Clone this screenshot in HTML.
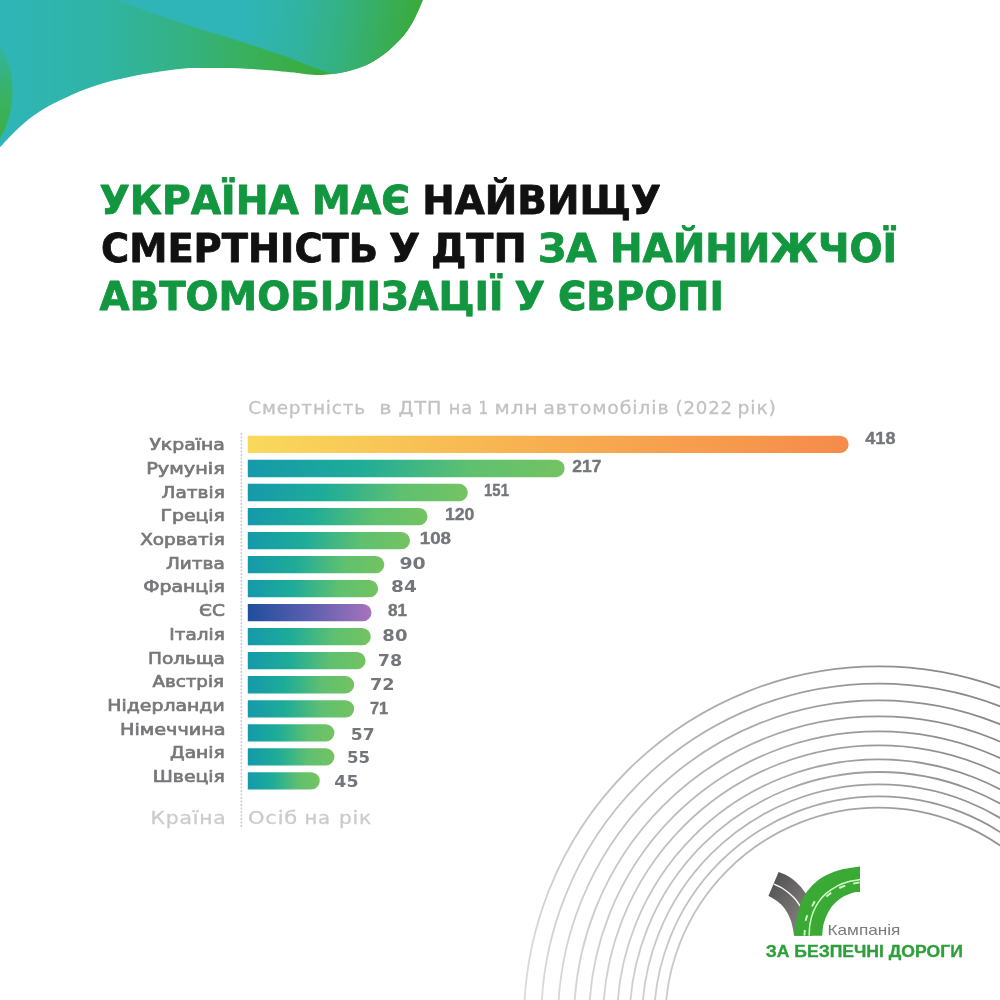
<!DOCTYPE html>
<html lang="uk"><head><meta charset="utf-8"><title>Смертність у ДТП</title>
<style>
html,body{margin:0;padding:0;background:#fff}
body{width:1000px;height:1000px;overflow:hidden;position:relative}
svg{position:absolute;left:0;top:0;display:block}
text{white-space:pre}
.h{font-family:"DejaVu Sans","Liberation Sans",sans-serif;font-weight:bold;font-size:38.2px;stroke-width:.8;stroke-linejoin:round}
.g{fill:#12963f;stroke:#12963f}
.k{fill:#111;stroke:#111}
.lab{font-family:"DejaVu Sans","Liberation Sans",sans-serif;font-size:16.4px;fill:#77777c;stroke:#77777c;stroke-width:.7}
.num{font-family:"DejaVu Sans","Liberation Sans",sans-serif;font-weight:bold;font-size:16.4px;fill:#74767b}
.n1{font-family:"Liberation Sans","DejaVu Sans",sans-serif;font-size:16.8px;stroke:#74767b;stroke-width:.4}
.ttl{font-family:"DejaVu Sans","Liberation Sans",sans-serif;font-size:17.6px;fill:#c2c2c2;stroke:#c2c2c2;stroke-width:.3;letter-spacing:.8px}
.lg1{font-family:"Liberation Sans","DejaVu Sans",sans-serif;font-size:14.6px;fill:#7a7a7a}
.lg2{font-family:"Liberation Sans","DejaVu Sans",sans-serif;font-weight:bold;font-size:17.4px;fill:#2f9f3c;stroke:#2f9f3c;stroke-width:.35}
.ft{font-family:"DejaVu Sans","Liberation Sans",sans-serif;font-size:18px;fill:#cbcbcb;stroke:#cbcbcb;stroke-width:.3;letter-spacing:.7px}
</style></head><body>
<svg width="1000" height="1000" viewBox="0 0 1000 1000">
<defs>
<linearGradient id="gb" gradientUnits="userSpaceOnUse" x1="0" y1="0" x2="335" y2="0">
<stop offset="0" stop-color="#2fb5b8"/><stop offset=".3" stop-color="#30b4a5"/><stop offset=".55" stop-color="#34b282"/><stop offset=".78" stop-color="#3ab054"/><stop offset="1" stop-color="#3aaa35"/></linearGradient>
<linearGradient id="go" gradientUnits="userSpaceOnUse" x1="245" y1="0" x2="425" y2="28">
<stop offset="0" stop-color="#2fb5b8"/><stop offset=".3" stop-color="#31b3a2"/><stop offset=".58" stop-color="#35b17c"/><stop offset=".8" stop-color="#39ad55"/><stop offset="1" stop-color="#3aaa35"/></linearGradient>
<linearGradient id="gl" gradientUnits="userSpaceOnUse" x1="0" y1="45" x2="0" y2="138">
<stop offset="0" stop-color="#32b5a0"/><stop offset=".5" stop-color="#38b26a"/><stop offset="1" stop-color="#3cb043"/></linearGradient>
<linearGradient id="bt" x1="0" y1="0" x2="1" y2="0"><stop offset="0" stop-color="#1599ab"/><stop offset=".35" stop-color="#1eac98"/><stop offset=".7" stop-color="#5fc070"/><stop offset="1" stop-color="#74c361"/></linearGradient>
<linearGradient id="bu" x1="0" y1="0" x2="1" y2="0"><stop offset="0" stop-color="#f9d95b"/><stop offset=".5" stop-color="#f8ae50"/><stop offset="1" stop-color="#f68b4b"/></linearGradient>
<linearGradient id="be" x1="0" y1="0" x2="1" y2="0"><stop offset="0" stop-color="#1f4e9c"/><stop offset=".5" stop-color="#5b5fae"/><stop offset="1" stop-color="#a773bd"/></linearGradient>
<linearGradient id="ga" gradientUnits="userSpaceOnUse" x1="540" y1="1000" x2="960" y2="690"><stop offset="0" stop-color="#dadada"/><stop offset=".45" stop-color="#bababa"/><stop offset="1" stop-color="#888888"/></linearGradient>
<linearGradient id="gr" gradientUnits="userSpaceOnUse" x1="768" y1="890" x2="808" y2="920"><stop offset="0" stop-color="#565656"/><stop offset="1" stop-color="#85807f"/></linearGradient>
</defs>

<path d="M-6.0,154.0 C-5.0,152.9 -3.7,151.1 0.0,147.2 C3.7,143.3 10.7,135.5 16.0,130.4 C21.3,125.3 26.7,120.8 32.0,116.8 C37.3,112.8 42.7,109.5 48.0,106.4 C53.3,103.3 58.7,100.9 64.0,98.4 C69.3,95.9 74.7,93.3 80.0,91.2 C85.3,89.1 90.7,87.3 96.0,85.6 C101.3,83.9 106.7,82.2 112.0,80.8 C117.3,79.4 122.7,78.4 128.0,77.3 C133.3,76.2 138.7,75.1 144.0,74.1 C149.3,73.1 153.7,72.4 160.0,71.5 C166.3,70.6 175.7,69.3 182.0,68.7 C188.3,68.1 192.7,68.2 198.0,68.1 C203.3,68.0 208.7,67.9 214.0,67.9 C219.3,67.9 224.7,68.0 230.0,68.1 C235.3,68.2 240.7,68.4 246.0,68.7 C251.3,69.0 256.7,69.3 262.0,69.7 C267.3,70.1 272.7,70.5 278.0,71.0 C283.3,71.5 289.3,72.1 294.0,72.6 C298.7,73.1 301.3,73.8 306.0,74.2 C310.7,74.6 316.7,75.1 322.0,74.9 C327.3,74.8 332.7,74.2 338.0,73.3 C343.3,72.4 348.7,71.3 354.0,69.6 C359.3,67.9 364.7,66.0 370.0,63.2 C375.3,60.4 380.7,57.1 386.0,52.8 C391.3,48.5 397.7,42.4 402.0,37.6 C406.3,32.8 408.9,28.4 411.6,24.0 C414.3,19.6 416.1,15.2 418.0,11.2 C419.9,7.2 421.5,3.2 422.8,0.0 C424.1,-3.2 425.5,-6.7 426.0,-8.0 L-6,-8 Z" fill="url(#gb)"/>
<path d="M110.0,-3.0 C111.0,-2.5 107.7,-3.1 116.0,0.0 C124.3,3.1 145.5,10.5 160.0,15.5 C174.5,20.5 191.1,26.2 202.8,30.0 C214.5,33.8 220.1,34.9 230.0,38.0 C239.9,41.1 252.7,45.3 262.0,48.4 C271.3,51.5 278.7,53.7 286.0,56.4 C293.3,59.1 300.0,62.5 306.0,64.8 C312.0,67.1 317.7,69.0 322.0,70.4 C326.3,71.8 328.9,72.8 331.6,73.3 C334.3,73.8 334.3,73.9 338.0,73.3 C341.7,72.7 348.7,71.3 354.0,69.6 C359.3,67.9 364.7,66.0 370.0,63.2 C375.3,60.4 380.7,57.1 386.0,52.8 C391.3,48.5 397.7,42.4 402.0,37.6 C406.3,32.8 408.9,28.4 411.6,24.0 C414.3,19.6 416.1,15.2 418.0,11.2 C419.9,7.2 421.5,3.2 422.8,0.0 C424.1,-3.2 425.5,-6.7 426.0,-8.0 L110,-8 Z" fill="url(#go)"/>
<path d="M-2,44 C6,52 12.5,70 12.5,90 C12.500,112 6,130 -2,141 Z" fill="url(#gl)"/>
<g fill="none" stroke="url(#ga)" stroke-width="1.8">
<circle cx="878.6" cy="1021" r="354.6"/>
<circle cx="878.6" cy="1021" r="337.4"/>
<circle cx="878.6" cy="1021" r="320.6"/>
<circle cx="878.6" cy="1021" r="304.6"/>
<circle cx="878.6" cy="1021" r="289.6"/>
<circle cx="878.6" cy="1021" r="275.6"/>
<circle cx="878.6" cy="1021" r="261.6"/>
<circle cx="878.6" cy="1021" r="249"/>
<circle cx="878.6" cy="1021" r="236.6"/>
<circle cx="878.6" cy="1021" r="224.6"/>
<circle cx="878.6" cy="1021" r="213.4"/>
</g>
<text class="h g" x="99.50" y="213.8" textLength="199.50" lengthAdjust="spacingAndGlyphs">УКРАЇНА</text>
<text class="h g" x="311.87" y="213.8" textLength="98.23" lengthAdjust="spacingAndGlyphs">МАЄ</text>
<text class="h k" x="422.35" y="213.8" textLength="238.46" lengthAdjust="spacingAndGlyphs">НАЙВИЩУ</text>
<text class="h k" x="100.99" y="261.6" textLength="277.04" lengthAdjust="spacingAndGlyphs">СМЕРТНІСТЬ</text>
<text class="h k" x="388.94" y="261.6" textLength="31.10" lengthAdjust="spacingAndGlyphs">У</text>
<text class="h k" x="430.92" y="261.6" textLength="95.87" lengthAdjust="spacingAndGlyphs">ДТП</text>
<text class="h g" x="537.92" y="261.6" textLength="58.85" lengthAdjust="spacingAndGlyphs">ЗА</text>
<text class="h g" x="609.96" y="261.6" textLength="287.05" lengthAdjust="spacingAndGlyphs">НАЙНИЖЧОЇ</text>
<text class="h g" x="99.50" y="309.5" textLength="404.00" lengthAdjust="spacingAndGlyphs">АВТОМОБІЛІЗАЦІЇ</text>
<text class="h g" x="514.49" y="309.5" textLength="30.55" lengthAdjust="spacingAndGlyphs">У</text>
<text class="h g" x="557.98" y="309.5" textLength="165.90" lengthAdjust="spacingAndGlyphs">ЄВРОПІ</text>
<text class="ttl" x="248.19" y="413.8" textLength="117.87" lengthAdjust="spacingAndGlyphs">Смертність</text>
<text class="ttl" x="379.15" y="413.8" textLength="13.17" lengthAdjust="spacingAndGlyphs">в</text>
<text class="ttl" x="398.59" y="413.8" textLength="43.59" lengthAdjust="spacingAndGlyphs">ДТП</text>
<text class="ttl" x="448.84" y="413.8" textLength="24.04" lengthAdjust="spacingAndGlyphs">на</text>
<text class="ttl" x="478.54" y="413.8" textLength="10.37" lengthAdjust="spacingAndGlyphs">1</text>
<text class="ttl" x="494.46" y="413.8" textLength="44.17" lengthAdjust="spacingAndGlyphs">млн</text>
<text class="ttl" x="543.37" y="413.8" textLength="126.06" lengthAdjust="spacingAndGlyphs">автомобілів</text>
<text class="ttl" x="675.51" y="413.8" textLength="57.46" lengthAdjust="spacingAndGlyphs">(2022</text>
<text class="ttl" x="737.53" y="413.8" textLength="39.27" lengthAdjust="spacingAndGlyphs">рік)</text>
<line x1="241.4" y1="433" x2="241.4" y2="829" stroke="#cdcbd9" stroke-width="1.6" stroke-dasharray="2 1.5"/>
<path d="M247.8,435.80 H839.95 A8.65,8.65 0 0 1 839.95,453.10 H247.8 Z" fill="url(#bu)"/>
<path d="M247.8,459.83 H555.95 A8.65,8.65 0 0 1 555.95,477.13 H247.8 Z" fill="url(#bt)"/>
<path d="M247.8,483.86 H459.15 A8.65,8.65 0 0 1 459.15,501.16 H247.8 Z" fill="url(#bt)"/>
<path d="M247.8,507.89 H418.85 A8.65,8.65 0 0 1 418.85,525.19 H247.8 Z" fill="url(#bt)"/>
<path d="M247.8,531.92 H401.35 A8.65,8.65 0 0 1 401.35,549.22 H247.8 Z" fill="url(#bt)"/>
<path d="M247.8,555.95 H375.65 A8.65,8.65 0 0 1 375.65,573.25 H247.8 Z" fill="url(#bt)"/>
<path d="M247.8,579.98 H369.45 A8.65,8.65 0 0 1 369.45,597.28 H247.8 Z" fill="url(#bt)"/>
<path d="M247.8,604.01 H362.85 A8.65,8.65 0 0 1 362.85,621.31 H247.8 Z" fill="url(#be)"/>
<path d="M247.8,628.04 H362.15 A8.65,8.65 0 0 1 362.15,645.34 H247.8 Z" fill="url(#bt)"/>
<path d="M247.8,652.07 H356.95 A8.65,8.65 0 0 1 356.95,669.37 H247.8 Z" fill="url(#bt)"/>
<path d="M247.8,676.10 H345.55 A8.65,8.65 0 0 1 345.55,693.40 H247.8 Z" fill="url(#bt)"/>
<path d="M247.8,700.13 H345.55 A8.65,8.65 0 0 1 345.55,717.43 H247.8 Z" fill="url(#bt)"/>
<path d="M247.8,724.16 H325.75 A8.65,8.65 0 0 1 325.75,741.46 H247.8 Z" fill="url(#bt)"/>
<path d="M247.8,748.19 H325.75 A8.65,8.65 0 0 1 325.75,765.49 H247.8 Z" fill="url(#bt)"/>
<path d="M247.8,772.22 H311.15 A8.65,8.65 0 0 1 311.15,789.52 H247.8 Z" fill="url(#bt)"/>
<text class="lab" x="149.40" y="450.2" textLength="75.42" lengthAdjust="spacingAndGlyphs">Україна</text>
<text class="lab" x="146.16" y="473.9" textLength="78.67" lengthAdjust="spacingAndGlyphs">Румунія</text>
<text class="lab" x="161.58" y="497.6" textLength="63.24" lengthAdjust="spacingAndGlyphs">Латвія</text>
<text class="lab" x="160.53" y="521.3" textLength="64.32" lengthAdjust="spacingAndGlyphs">Греція</text>
<text class="lab" x="140.19" y="545.0" textLength="84.62" lengthAdjust="spacingAndGlyphs">Хорватія</text>
<text class="lab" x="165.99" y="568.7" textLength="58.84" lengthAdjust="spacingAndGlyphs">Литва</text>
<text class="lab" x="143.18" y="592.4" textLength="81.64" lengthAdjust="spacingAndGlyphs">Франція</text>
<text class="lab" x="199.13" y="616.1" textLength="25.75" lengthAdjust="spacingAndGlyphs">ЄС</text>
<text class="lab" x="169.24" y="639.8" textLength="55.50" lengthAdjust="spacingAndGlyphs">Італія</text>
<text class="lab" x="147.97" y="663.5" textLength="76.85" lengthAdjust="spacingAndGlyphs">Польща</text>
<text class="lab" x="152.50" y="687.2" textLength="71.40" lengthAdjust="spacingAndGlyphs">Австрія</text>
<text class="lab" x="107.28" y="710.9" textLength="117.44" lengthAdjust="spacingAndGlyphs">Нідерланди</text>
<text class="lab" x="119.97" y="734.6" textLength="105.57" lengthAdjust="spacingAndGlyphs">Німеччина</text>
<text class="lab" x="170.00" y="758.3" textLength="54.82" lengthAdjust="spacingAndGlyphs">Данія</text>
<text class="lab" x="152.77" y="782.0" textLength="72.06" lengthAdjust="spacingAndGlyphs">Швеція</text>
<text class="num n1" x="865.37" y="443.6" textLength="30.05" lengthAdjust="spacingAndGlyphs">418</text>
<text class="num n1" x="572.39" y="472" textLength="29.04" lengthAdjust="spacingAndGlyphs">217</text>
<text class="num n1" x="484.07" y="495.8" textLength="24.85" lengthAdjust="spacingAndGlyphs">151</text>
<text class="num n1" x="444.98" y="520" textLength="29.45" lengthAdjust="spacingAndGlyphs">120</text>
<text class="num n1" x="419.76" y="543.5" textLength="31.24" lengthAdjust="spacingAndGlyphs">108</text>
<text class="num" x="399.46" y="569" textLength="26.30" lengthAdjust="spacingAndGlyphs">90</text>
<text class="num" x="391.06" y="591.7" textLength="25.68" lengthAdjust="spacingAndGlyphs">84</text>
<text class="num n1" x="388.00" y="615.9" textLength="19.10" lengthAdjust="spacingAndGlyphs">81</text>
<text class="num" x="382.35" y="641.2" textLength="25.10" lengthAdjust="spacingAndGlyphs">80</text>
<text class="num" x="377.84" y="666.4" textLength="24.35" lengthAdjust="spacingAndGlyphs">78</text>
<text class="num" x="370.08" y="690.2" textLength="24.55" lengthAdjust="spacingAndGlyphs">72</text>
<text class="num n1" x="370.00" y="713.7" textLength="18.22" lengthAdjust="spacingAndGlyphs">71</text>
<text class="num" x="350.88" y="740.1" textLength="23.88" lengthAdjust="spacingAndGlyphs">57</text>
<text class="num" x="347.01" y="762.5" textLength="23.05" lengthAdjust="spacingAndGlyphs">55</text>
<text class="num" x="334.37" y="787.4" textLength="24.14" lengthAdjust="spacingAndGlyphs">45</text>
<text class="ft" x="150.54" y="824.2" textLength="75.97" lengthAdjust="spacingAndGlyphs">Країна</text>
<text class="ft" x="247.96" y="824.2" textLength="50.13" lengthAdjust="spacingAndGlyphs">Осіб</text>
<text class="ft" x="304.48" y="824.2" textLength="26.45" lengthAdjust="spacingAndGlyphs">на</text>
<text class="ft" x="338.90" y="824.2" textLength="33.05" lengthAdjust="spacingAndGlyphs">рік</text>
<g>
<path d="M778.6,872.0 C779.8,872.5 783.6,873.8 786.0,875.0 C788.4,876.2 790.7,877.7 793.0,879.5 C795.3,881.3 797.7,883.5 800.0,886.0 C802.3,888.5 805.7,893.3 806.8,894.8 L812,936 L794.2,935.8 C793.7,933.3 792.5,925.5 791.0,921.0 C789.5,916.5 787.3,912.3 785.0,909.0 C782.7,905.7 779.8,903.2 777.0,901.0 C774.2,898.8 769.8,896.8 768.4,896.0 Z" fill="url(#gr)"/>
<path d="M773.8,884.0 C775.2,884.7 779.3,886.3 782.0,888.0 C784.7,889.7 787.7,892.0 790.0,894.0 C792.3,896.0 794.3,898.0 796.0,900.0 C797.7,902.0 799.5,905.2 800.2,906.2" fill="none" stroke="#fff" stroke-width="1.3"/>
<path d="M794.0,935.8 C794.5,932.5 795.9,922.0 797.2,916.0 C798.5,910.0 799.9,904.7 802.0,900.0 C804.1,895.3 806.7,891.7 810.0,888.0 C813.3,884.3 817.3,880.5 822.0,877.6 C826.7,874.7 831.7,872.2 838.0,870.4 C844.3,868.6 856.3,867.2 860.0,866.6 L860.0,892.0 C859.0,892.1 856.6,891.7 854.0,892.4 C851.4,893.1 847.6,894.2 844.4,896.0 C841.2,897.8 837.5,900.5 834.8,903.2 C832.1,905.9 830.3,908.5 828.4,912.0 C826.5,915.5 824.6,920.0 823.6,924.0 C822.6,928.0 822.4,933.8 822.2,935.8 Z" fill="#3aaa35"/>
<path d="M809.2,935.8 C809.3,933.8 809.3,928.0 810.0,924.0 C810.7,920.0 811.7,915.7 813.2,912.0 C814.7,908.3 816.7,904.7 818.8,901.6 C820.9,898.5 822.8,896.3 826.0,893.6 C829.2,890.9 834.0,887.7 838.0,885.6 C842.0,883.5 846.3,882.2 850.0,881.2 C853.7,880.2 858.3,879.9 860.0,879.6" fill="none" stroke="#d0ffc8" stroke-width="1.5"/>
<line x1="804.4" y1="935.5" x2="804.8" y2="930" stroke="#d0ffc8" stroke-width="1.9"/>
<line x1="805.6" y1="920.8" x2="807.2" y2="915.2" stroke="#d0ffc8" stroke-width="1.9"/>
<line x1="812" y1="906.4" x2="814.8" y2="901.2" stroke="#d0ffc8" stroke-width="1.9"/>
<line x1="826.4" y1="896.4" x2="831.2" y2="892.8" stroke="#d0ffc8" stroke-width="1.9"/>
<line x1="839.2" y1="888" x2="845.2" y2="885.6" stroke="#d0ffc8" stroke-width="1.9"/>
<line x1="853.2" y1="883.6" x2="859.6" y2="882.4" stroke="#d0ffc8" stroke-width="1.9"/>
</g>
<text class="lg1" x="827.54" y="935.3" textLength="72.89" lengthAdjust="spacingAndGlyphs">Кампанія</text>
<text class="lg2" x="765.70" y="956.8" textLength="197.11" lengthAdjust="spacingAndGlyphs">ЗА БЕЗПЕЧНІ ДОРОГИ</text>
</svg></body></html>
